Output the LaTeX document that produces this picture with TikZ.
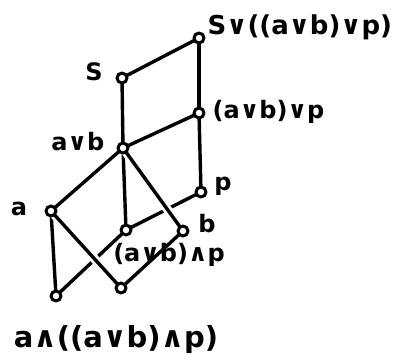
\documentclass[tikz,border=0pt]{standalone}
\usepackage{fontspec}
\setmainfont{DejaVu Sans}
\usetikzlibrary{positioning}

\begin{document}
\begin{tikzpicture}[x=1pt, y=-1pt, line width=3.4pt,
                    line cap=round, line join=round,
                    lbl/.style={font=\fontsize{24}{28}\selectfont\bfseries, inner sep=0pt},
                    over/.style={preaction={draw=white, line width=9pt, line cap=butt}}]
  \useasboundingbox (0, 0) rectangle (398, 360);

  % Lattice elements
  \coordinate (top) at (199, 38);
  \coordinate (s) at (122, 78);
  \coordinate (abp) at (199, 113);
  \coordinate (ab) at (123, 148);
  \coordinate (p) at (201, 192);
  \coordinate (a) at (51, 211);
  \coordinate (abmp) at (126, 230);
  \coordinate (b) at (183, 231);
  \coordinate (bl) at (56, 296);
  \coordinate (bm) at (121, 288);

  % Upper square
  \draw (top) -- (s);
  \draw (top) -- (abp);
  \draw (s) -- (ab);
  \draw (abp) -- (ab);
  \draw (abp) -- (p);

  % Edges below a v b
  \draw (ab) -- (a);
  \draw (ab) -- (abmp);
  \draw (p) -- (abmp);
  \draw (a) -- (bl);
  \draw (abmp) -- (bl);
  \draw (bm) -- (b);

  % Edges passing over others (gap where they cross)
  \draw[over] (ab) -- (b);
  \draw[over] (a) -- (bm);

  % Elements as open circles (drawn last, on top of edges)
  \foreach \p in {top, s, abp, ab, p, a, abmp, b, bl, bm}
    \draw[fill=white, line width=3pt] (\p) circle (5pt);

  % Labels
  \node[lbl, anchor=west, font=\fontsize{26}{30}\selectfont\bfseries] (ltop) at (206, 27) {S∨((a∨b)∨p)};
  \node[lbl] (ls) at (94, 72) {S};
  \node[lbl, anchor=west] (labp) at (211, 112) {(a∨b)∨p};
  \node[lbl, anchor=east] (lab) at (106, 142) {a∨b};
  \node[lbl] (lp) at (223, 186) {p};
  \node[lbl] (la) at (19, 209) {a};
  \node[lbl] (lb) at (207, 224) {b};
  \node[lbl] (labmp) at (169, 255) {(a∨b)∧p};
  \node[lbl, font=\fontsize{29}{32}\selectfont\bfseries] (lbl) at (116, 339) {a∧((a∨b)∧p)};
\end{tikzpicture}
\end{document}
